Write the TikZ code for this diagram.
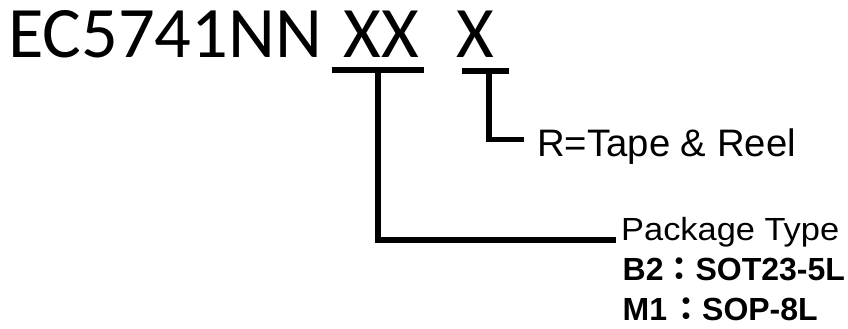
\documentclass[tikz,border=0pt]{standalone}
\usepackage{fontspec}
\setmainfont{Liberation Sans}
\newfontfamily\titlefont{Carlito}
\newfontfamily\cjkfont{Noto Sans CJK TC}
\tikzset{
  conn/.style={line width=5.5pt, line cap=butt, line join=miter},
  lab/.style={inner sep=0pt, anchor=base west},
  titletext/.style={lab, font=\titlefont\fontsize{72.5}{80}\selectfont},
  notetext/.style={lab, font=\fontsize{38.3}{42}\selectfont},
  pkgtext/.style={lab, font=\fontsize{32}{36}\selectfont},
  codetext/.style={lab, font=\bfseries\fontsize{32}{36}\selectfont},
}
\newcommand{\fwcolon}{{\cjkfont\fontsize{32}{36}\selectfont ：}}
\begin{document}
\begin{tikzpicture}[x=1pt,y=-1pt]
\useasboundingbox (0,0) rectangle (848,329);
\fill[white] (0,0) rectangle (848,329);
% title
\node[titletext] (pn) at (8,57) {EC5741NN};
\node[titletext] (xx) at (343.5,57) {XX};
\node[titletext] (x) at (456,57) {X};
% underlines
\coordinate (u1a) at (331.5,70);
\coordinate (u1b) at (423.5,70);
\coordinate (u2a) at (461.5,71);
\coordinate (u2b) at (508.5,71);
\draw[conn] (u1a) -- (u1b);
\draw[conn] (u2a) -- (u2b);
% connectors
\coordinate (t1) at (378,70);
\coordinate (e1) at (616,240);
\coordinate (t2) at (489,71);
\coordinate (e2) at (523.5,139.5);
\draw[conn] (t1) |- (e1);
\draw[conn] (t2) |- (e2);
% labels
\node[notetext] (reel) at (537,156.5) {R=Tape \& Reel};
\node[pkgtext] (pkg) at (621,240.5) {\scalebox{1.075}[1]{Package Type}};
\node[codetext] (b2) at (622.5,280.5) {B2\fwcolon SOT23-5L};
\node[codetext] (m1) at (622.5,320.5) {M1\hspace{3pt}\fwcolon SOP-8L};
\end{tikzpicture}
\end{document}
